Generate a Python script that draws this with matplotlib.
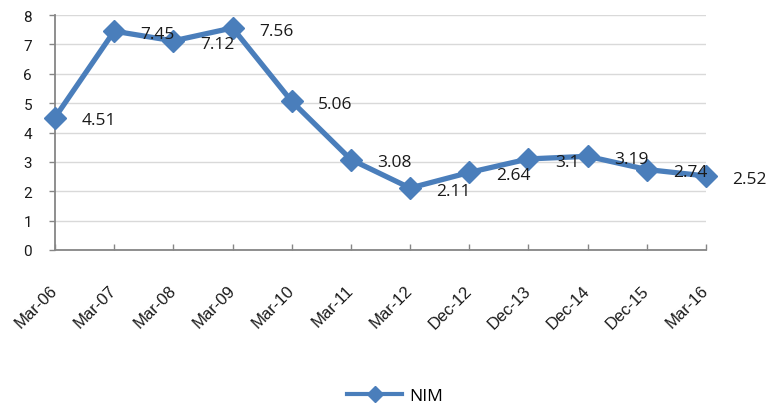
import matplotlib
matplotlib.use("Agg")
import matplotlib.pyplot as plt
from matplotlib.lines import Line2D

periods = ["Mar-06", "Mar-07", "Mar-08", "Mar-09", "Mar-10", "Mar-11",
           "Mar-12", "Dec-12", "Dec-13", "Dec-14", "Dec-15", "Mar-16"]
nim = [4.51, 7.45, 7.12, 7.56, 5.06, 3.08, 2.11, 2.64, 3.1, 3.19, 2.74, 2.52]
y_ticks = [0, 1, 2, 3, 4, 5, 6, 7, 8]

line_color = "#4A7EBB"
axis_color = "#868686"
grid_color = "#D9D9D9"
text_color = "#1A1A1A"

fig = plt.figure(figsize=(7.68, 4.10), dpi=100)
ax = fig.add_axes([55 / 768, 1 - 251 / 410, (706 - 55) / 768, (251 - 16) / 410])

x = list(range(len(periods)))
ax.plot(x, nim, color=line_color, lw=3.8, marker="D", markersize=11.5,
        markeredgecolor=line_color, markerfacecolor=line_color, zorder=3,
        clip_on=False)

# value labels to the right of each point
for xi, v in zip(x, nim):
    ax.annotate(f"{v:g}", (xi, v), xytext=(19, -2), textcoords="offset points",
                ha="left", va="center", fontsize=12.5, family="Open Sans",
                color=text_color, zorder=4)

ax.set_xlim(0, len(periods) - 1)
ax.set_ylim(0, 8)
ax.set_yticks(y_ticks)
ax.set_xticks(x)
ax.set_xticklabels(periods, rotation=45, ha="right", va="center",
                   rotation_mode="anchor", family="Liberation Sans", fontsize=12)
for lbl in ax.get_yticklabels():
    lbl.set_family("Roboto")
    lbl.set_fontsize(11)

ax.yaxis.grid(True, color=grid_color, lw=1)
ax.set_axisbelow(True)
for side in ("top", "right"):
    ax.spines[side].set_visible(False)
for side in ("left", "bottom"):
    ax.spines[side].set_color(axis_color)
    ax.spines[side].set_linewidth(1.3)

ax.tick_params(axis="y", direction="out", length=4, width=1, color=axis_color,
               pad=12.5, labelcolor=text_color)
ax.tick_params(axis="x", direction="in", length=4, width=1, color=axis_color,
               pad=27, labelcolor=text_color)

handle = Line2D([], [], color=line_color, lw=3, marker="D", markersize=8.5)
fig.legend([handle], ["NIM"], loc="center", bbox_to_anchor=(395 / 768, 1 - 397 / 410),
           frameon=False, prop={"family": "Open Sans", "size": 12.5},
           handlelength=3.2, handletextpad=0.4)

fig.savefig("out.png", dpi=100)
